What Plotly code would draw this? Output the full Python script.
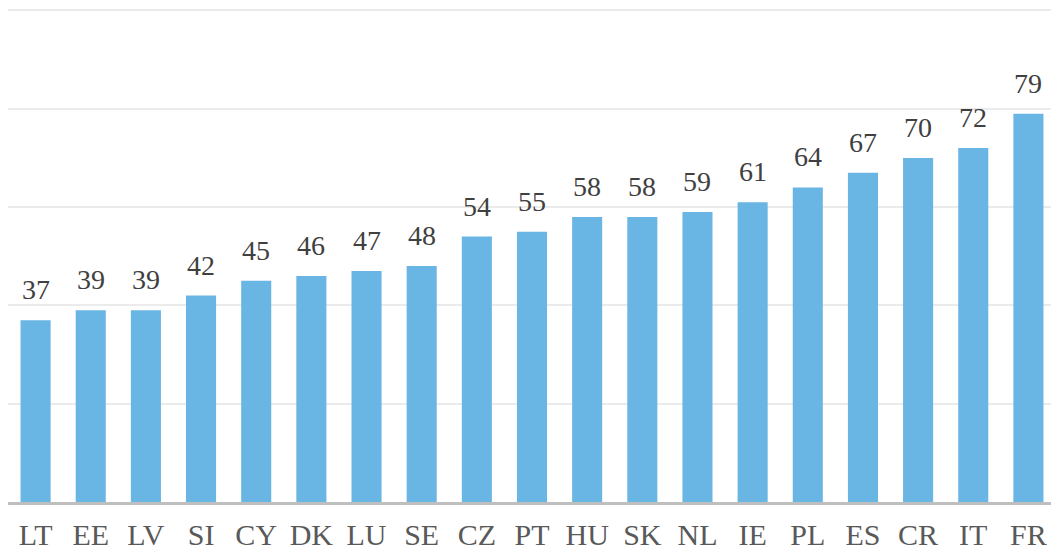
import plotly.graph_objects as go

countries = ["LT", "EE", "LV", "SI", "CY", "DK", "LU", "SE", "CZ", "PT",
             "HU", "SK", "NL", "IE", "PL", "ES", "CR", "IT", "FR"]
values = [37, 39, 39, 42, 45, 46, 47, 48, 54, 55,
          58, 58, 59, 61, 64, 67, 70, 72, 79]

fig = go.Figure(go.Bar(
    x=countries, y=values,
    marker=dict(color="#69B5E3", line=dict(width=0)),
    cliponaxis=False,
))

for c, v in zip(countries, values):
    fig.add_annotation(
        x=c, y=v, text=str(v), showarrow=False,
        yanchor="bottom", yshift=13,
        font=dict(family="Liberation Serif", size=28, color="#404040"),
    )

fig.update_layout(
    width=1051, height=544,
    margin=dict(l=0, r=3, t=1, b=50),
    paper_bgcolor="white", plot_bgcolor="white",
    bargap=0.455,
    showlegend=False,
    xaxis=dict(
        showline=True, linecolor="#BFBFBF", linewidth=3,
        showgrid=False, ticks="", ticklabelstandoff=4,
        tickfont=dict(family="Liberation Serif", size=30, color="#595959"),
    ),
    yaxis=dict(
        range=[0, 100.3], dtick=20, showticklabels=False,
        showgrid=True, gridcolor="#EBEBEB", gridwidth=2,
        zeroline=False, showline=False,
    ),
)

fig.write_html("out.html")
